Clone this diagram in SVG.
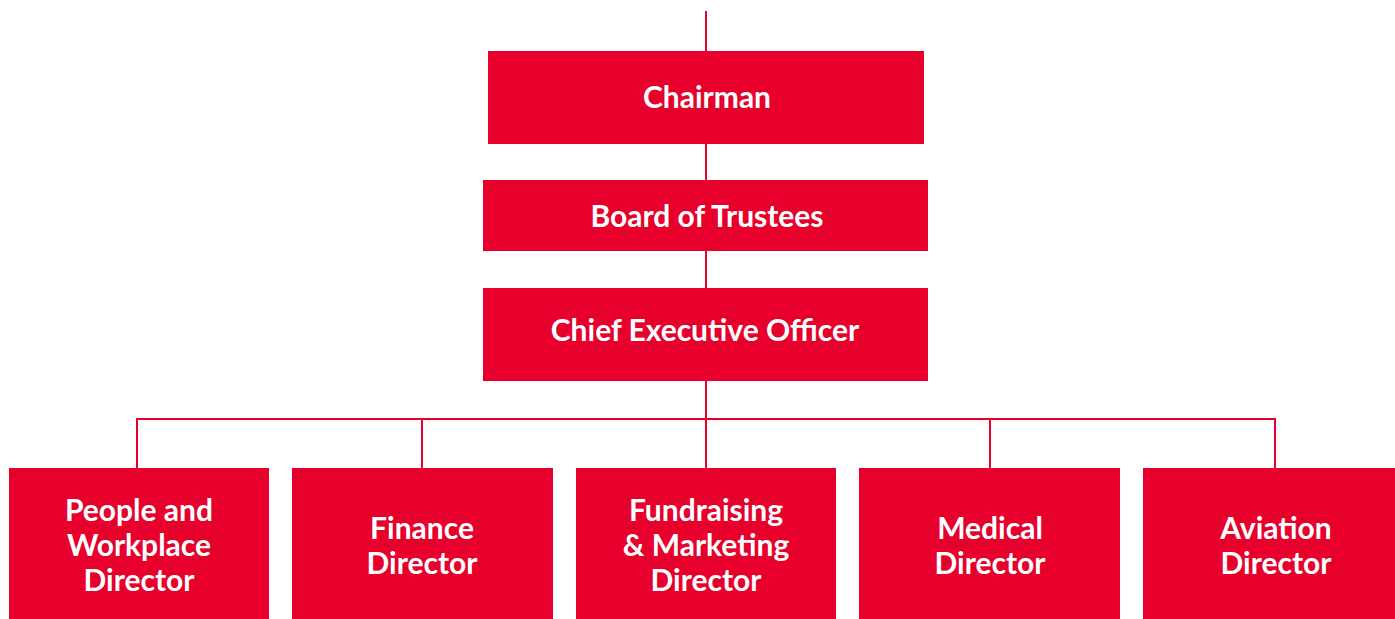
<svg xmlns="http://www.w3.org/2000/svg" width="1395" height="619" viewBox="0 0 1395 619">
  <style>
    .box { fill: #E6002B; }
    .lbl { fill: #FFFFFF; font-family: Lato, "Open Sans", "Liberation Sans", sans-serif; font-weight: 700; font-size: 30px; text-anchor: middle; }
    .wire { stroke: #E6002B; stroke-width: 2; fill: none; }
  </style>
  <rect width="1395" height="619" fill="#FFFFFF"/>

  <!-- connectors -->
  <g id="connectors">
    <line class="wire" x1="706" y1="11" x2="706" y2="51"/>
    <line class="wire" x1="706" y1="144" x2="706" y2="180"/>
    <line class="wire" x1="706" y1="251" x2="706" y2="288"/>
    <line class="wire" x1="706" y1="381" x2="706" y2="468"/>
    <path class="wire" d="M137 468 V419 H1275 V468"/>
    <line class="wire" x1="422" y1="419" x2="422" y2="468"/>
    <line class="wire" x1="990" y1="419" x2="990" y2="468"/>
  </g>

  <g id="chairman">
    <rect class="box" x="488" y="51" width="436" height="93"/>
    <text class="lbl" x="707" y="108">Chairman</text>
  </g>
  <g id="board">
    <rect class="box" x="483" y="180" width="445" height="71"/>
    <text class="lbl" x="707" y="227">Board of Trustees</text>
  </g>
  <g id="ceo">
    <rect class="box" x="483" y="288" width="445" height="93"/>
    <text class="lbl" x="705" y="341">Chief Executive Officer</text>
  </g>

  <g id="people">
    <rect class="box" x="9" y="468" width="260" height="160"/>
    <text class="lbl" x="139" y="521">People and</text>
    <text class="lbl" x="139" y="556">Workplace</text>
    <text class="lbl" x="139" y="591">Director</text>
  </g>
  <g id="finance">
    <rect class="box" x="292" y="468" width="261" height="160"/>
    <text class="lbl" x="422" y="539">Finance</text>
    <text class="lbl" x="422" y="574">Director</text>
  </g>
  <g id="fundraising">
    <rect class="box" x="576" y="468" width="260" height="160"/>
    <text class="lbl" x="706" y="521">Fundraising</text>
    <text class="lbl" x="706" y="556">&amp; Marketing</text>
    <text class="lbl" x="706" y="591">Director</text>
  </g>
  <g id="medical">
    <rect class="box" x="859" y="468" width="261" height="160"/>
    <text class="lbl" x="990" y="539">Medical</text>
    <text class="lbl" x="990" y="574">Director</text>
  </g>
  <g id="aviation">
    <rect class="box" x="1143" y="468" width="261" height="160"/>
    <text class="lbl" x="1276" y="539">Aviation</text>
    <text class="lbl" x="1276" y="574">Director</text>
  </g>
</svg>
